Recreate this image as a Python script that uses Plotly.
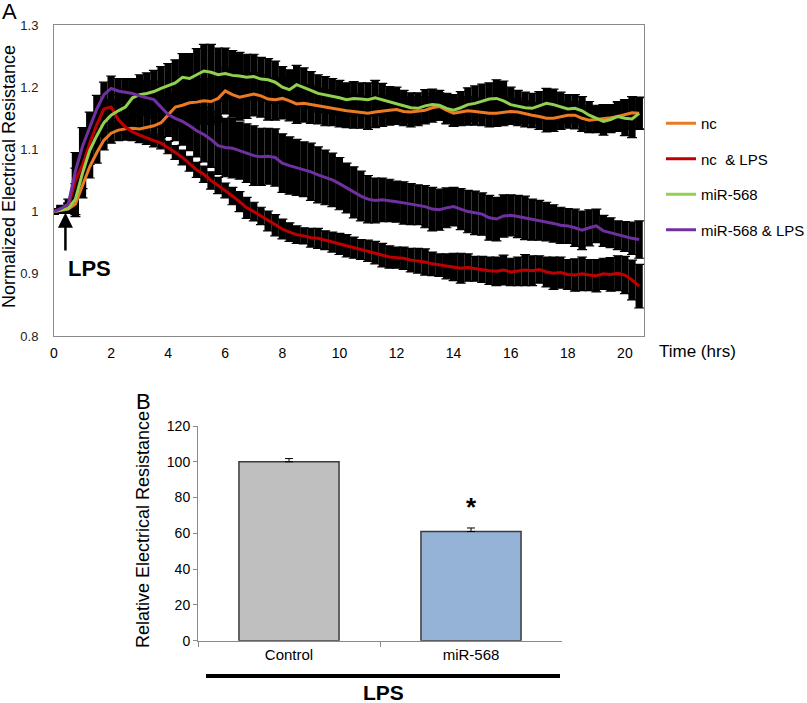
import plotly.graph_objects as go

# ---------------- Panel A data (time course) ----------------
TIME_HRS = [0.0, 0.25, 0.5, 0.75, 1.0, 1.25, 1.5, 1.75, 2.0, 2.25,
            2.5, 2.75, 3.0, 3.25, 3.5, 3.75, 4.0, 4.25, 4.5, 4.75,
            5.0, 5.25, 5.5, 5.75, 6.0, 6.25, 6.5, 6.75, 7.0, 7.25,
            7.5, 7.75, 8.0, 8.25, 8.5, 8.75, 9.0, 9.25, 9.5, 9.75,
            10.0, 10.25, 10.5, 10.75, 11.0, 11.25, 11.5, 11.75, 12.0, 12.25,
            12.5, 12.75, 13.0, 13.25, 13.5, 13.75, 14.0, 14.25, 14.5, 14.75,
            15.0, 15.25, 15.5, 15.75, 16.0, 16.25, 16.5, 16.75, 17.0, 17.25,
            17.5, 17.75, 18.0, 18.25, 18.5, 18.75, 19.0, 19.25, 19.5, 19.75,
            20.0, 20.25, 20.5]

NC = [1.000, 1.002, 1.004, 1.012, 1.042, 1.072, 1.095, 1.115, 1.126, 1.131,
      1.133, 1.134, 1.133, 1.135, 1.138, 1.143, 1.155, 1.168, 1.171, 1.175,
      1.176, 1.178, 1.177, 1.182, 1.194, 1.188, 1.184, 1.186, 1.189, 1.186,
      1.181, 1.180, 1.182, 1.178, 1.173, 1.174, 1.172, 1.170, 1.167, 1.166,
      1.164, 1.162, 1.161, 1.160, 1.158, 1.160, 1.162, 1.163, 1.164, 1.161,
      1.160, 1.161, 1.163, 1.167, 1.169, 1.163, 1.158, 1.160, 1.162, 1.161,
      1.159, 1.158, 1.158, 1.160, 1.161, 1.160, 1.157, 1.155, 1.153, 1.150,
      1.150, 1.152, 1.155, 1.155, 1.150, 1.147, 1.148, 1.150, 1.151, 1.153,
      1.156, 1.159, 1.158]
NC_ERR = [0.004, 0.005, 0.007,
          0.020, 0.020, 0.018, 0.017, 0.016, 0.016,
          0.017, 0.018, 0.020, 0.022, 0.024, 0.026, 0.028, 0.030, 0.032, 0.033, 0.034, 0.035,
          0.036, 0.037, 0.038, 0.037, 0.036, 0.037, 0.036, 0.035, 0.034, 0.034, 0.033, 0.033,
          0.032, 0.031, 0.030, 0.030, 0.029, 0.029, 0.028, 0.028, 0.027, 0.027, 0.026, 0.026,
          0.025, 0.025, 0.024, 0.024,
          0.023, 0.024, 0.023, 0.022, 0.023, 0.022, 0.022, 0.021, 0.022, 0.023, 0.022, 0.021,
          0.022, 0.021, 0.022, 0.021,
          0.022, 0.021, 0.020, 0.021, 0.022, 0.021, 0.020, 0.021, 0.022, 0.021, 0.020, 0.021,
          0.022, 0.021, 0.022, 0.024, 0.026, 0.025]

NC_LPS = [1.000, 1.003, 1.008, 1.050, 1.075, 1.110, 1.140, 1.165, 1.168, 1.148,
          1.136, 1.128, 1.123, 1.118, 1.114, 1.110, 1.103, 1.095, 1.087, 1.077,
          1.067, 1.060, 1.050, 1.042, 1.034, 1.025, 1.016, 1.006, 1.000, 0.993,
          0.985, 0.978, 0.972, 0.967, 0.963, 0.961, 0.958, 0.957, 0.954, 0.951,
          0.948, 0.945, 0.942, 0.939, 0.937, 0.934, 0.930, 0.927, 0.926, 0.925,
          0.922, 0.921, 0.919, 0.916, 0.914, 0.912, 0.911, 0.909, 0.910, 0.908,
          0.907, 0.905, 0.904, 0.906, 0.903, 0.904, 0.906, 0.905, 0.907, 0.903,
          0.901, 0.902, 0.899, 0.898, 0.900, 0.898, 0.897, 0.900, 0.899, 0.901,
          0.898, 0.890, 0.880]
NC_LPS_ERR = [0.004, 0.004, 0.006,
              0.020, 0.020, 0.020, 0.018, 0.015, 0.012,
              0.010, 0.010, 0.009, 0.009, 0.010, 0.010, 0.009, 0.010, 0.011, 0.012, 0.012, 0.012,
              0.013, 0.014, 0.013, 0.012, 0.014, 0.016, 0.017, 0.015, 0.014, 0.016, 0.017, 0.016,
              0.015, 0.014, 0.013, 0.015, 0.016, 0.015, 0.016, 0.017, 0.018, 0.017, 0.016, 0.017,
              0.018, 0.019, 0.018, 0.017,
              0.018, 0.019, 0.020, 0.021, 0.019, 0.018, 0.020, 0.022, 0.024, 0.022, 0.020, 0.021,
              0.022, 0.023, 0.024, 0.022,
              0.023, 0.025, 0.024, 0.022, 0.024, 0.026, 0.025, 0.024, 0.026, 0.027, 0.025, 0.026,
              0.025, 0.027, 0.028, 0.030, 0.032, 0.035]

MIR = [1.000, 1.003, 1.005, 1.020, 1.062, 1.098, 1.122, 1.143, 1.155, 1.162,
       1.168, 1.183, 1.188, 1.190, 1.193, 1.198, 1.202, 1.207, 1.216, 1.214,
       1.220, 1.226, 1.224, 1.220, 1.222, 1.219, 1.218, 1.216, 1.217, 1.213,
       1.212, 1.208, 1.200, 1.196, 1.204, 1.200, 1.195, 1.190, 1.188, 1.186,
       1.183, 1.180, 1.182, 1.181, 1.180, 1.183, 1.180, 1.176, 1.174, 1.170,
       1.167, 1.166, 1.170, 1.172, 1.171, 1.166, 1.163, 1.167, 1.172, 1.174,
       1.178, 1.181, 1.182, 1.178, 1.172, 1.169, 1.167, 1.166, 1.170, 1.174,
       1.172, 1.168, 1.165, 1.166, 1.162, 1.155, 1.150, 1.145, 1.148, 1.153,
       1.150, 1.149, 1.158]
MIR_ERR = [0.004, 0.005, 0.008,
           0.025, 0.025, 0.022, 0.020, 0.022, 0.025,
           0.026, 0.028, 0.030, 0.032, 0.033, 0.034, 0.035, 0.036, 0.037, 0.038, 0.040, 0.042,
           0.043, 0.045, 0.043, 0.041, 0.040, 0.038, 0.037, 0.036, 0.035, 0.034, 0.034, 0.033,
           0.032, 0.031, 0.031, 0.030, 0.030, 0.029, 0.028, 0.028, 0.027, 0.027, 0.026, 0.027,
           0.028, 0.026, 0.025, 0.026,
           0.025, 0.024, 0.025, 0.026, 0.025, 0.024, 0.024, 0.025, 0.026, 0.027, 0.028, 0.027,
           0.026, 0.030, 0.032, 0.028,
           0.026, 0.025, 0.024, 0.023, 0.024, 0.025, 0.024, 0.023, 0.022, 0.023, 0.022, 0.021,
           0.022, 0.021, 0.024, 0.028, 0.030, 0.026]

MIR_LPS = [1.000, 1.005, 1.012, 1.065, 1.105, 1.135, 1.165, 1.188, 1.198, 1.194,
           1.192, 1.190, 1.186, 1.183, 1.180, 1.168, 1.156, 1.150, 1.145, 1.138,
           1.130, 1.124, 1.116, 1.106, 1.103, 1.102, 1.098, 1.094, 1.090, 1.088,
           1.089, 1.087, 1.078, 1.074, 1.071, 1.068, 1.064, 1.059, 1.055, 1.051,
           1.045, 1.038, 1.031, 1.025, 1.020, 1.018, 1.019, 1.018, 1.016, 1.014,
           1.012, 1.011, 1.008, 1.004, 1.003, 1.006, 1.008, 1.004, 1.000, 0.998,
           0.996, 0.990, 0.988, 0.993, 0.994, 0.992, 0.990, 0.987, 0.986, 0.984,
           0.981, 0.978, 0.977, 0.974, 0.970, 0.974, 0.977, 0.969, 0.966, 0.962,
           0.960, 0.957, 0.955]
MIR_LPS_ERR = [0.004, 0.005, 0.008,
               0.030, 0.030, 0.025, 0.022, 0.020, 0.020,
               0.020, 0.022, 0.024, 0.025, 0.027, 0.030, 0.032, 0.035, 0.036, 0.038, 0.040, 0.042,
               0.044, 0.045, 0.046, 0.047, 0.048, 0.046, 0.047, 0.048, 0.046, 0.045, 0.046, 0.047,
               0.046, 0.045, 0.044, 0.046, 0.045, 0.044, 0.043, 0.042, 0.040, 0.041, 0.040, 0.038,
               0.036, 0.035, 0.034, 0.033,
               0.034, 0.033, 0.032, 0.034, 0.035, 0.033, 0.032, 0.031, 0.033, 0.034, 0.035, 0.034,
               0.036, 0.035, 0.034, 0.033,
               0.034, 0.035, 0.033, 0.032, 0.031, 0.030, 0.029, 0.028, 0.030, 0.031, 0.029, 0.027,
               0.025, 0.024, 0.023, 0.024, 0.026, 0.030]

SERIES_NAMES = ["nc", "nc  & LPS", "miR-568", "miR-568 & LPS"]
SERIES_COLORS = ["#EC7A22", "#C00000", "#92D050", "#7030A0"]
A_XTICKS = [0, 2, 4, 6, 8, 10, 12, 14, 16, 18, 20]
A_YTICKS = [0.8, 0.9, 1.0, 1.1, 1.2, 1.3]
A_YTICKTEXT = ["0.8", "0.9", "1", "1.1", "1.2", "1.3"]

# ---------------- Panel B data (bars) ----------------
B_CATEGORIES = ["Control", "miR-568"]
B_VALUES = [100, 61]
B_ERRORS = [1.8, 2.0]
B_COLORS = ["#BFBFBF", "#95B3D7"]

W, H = 807, 703
FONT = "Liberation Sans, Arial, sans-serif"


def px(x):
    return x / W


def py(y):
    return 1 - y / H


fig = go.Figure()

series_vals = [NC, NC_LPS, MIR, MIR_LPS]
series_errs = [NC_ERR, NC_LPS_ERR, MIR_ERR, MIR_LPS_ERR]

# error bars first (black): a solid body plus thin capped bars for the ragged edge
for vals, errs in zip(series_vals, series_errs):
    fig.add_trace(go.Scatter(
        x=TIME_HRS, y=vals, mode="markers",
        marker=dict(size=1, color="rgba(0,0,0,0)"),
        error_y=dict(type="data", array=errs, visible=True, color="black",
                     thickness=7.2, width=0),
        showlegend=False, hoverinfo="skip", xaxis="x", yaxis="y"))
    fig.add_trace(go.Scatter(
        x=TIME_HRS, y=vals, mode="markers",
        marker=dict(size=1, color="rgba(0,0,0,0)"),
        error_y=dict(type="data", array=errs, visible=True, color="black",
                     thickness=1.2, width=5),
        showlegend=False, hoverinfo="skip", xaxis="x", yaxis="y"))

for i, (vals, name, col) in enumerate(zip(series_vals, SERIES_NAMES, SERIES_COLORS)):
    fig.add_trace(go.Scatter(
        x=TIME_HRS, y=vals, mode="lines", name=name,
        line=dict(color=col, width=3), legendgroup=f"g{i}",
        xaxis="x", yaxis="y"))

fig.add_trace(go.Bar(
    x=B_CATEGORIES, y=B_VALUES, width=0.55,
    marker=dict(color=B_COLORS, line=dict(color="#3A3A3A", width=1.5)),
    error_y=dict(type="data", array=B_ERRORS, arrayminus=[0, 0], symmetric=False,
                 color="black", thickness=1, width=4),
    showlegend=False, xaxis="x2", yaxis="y2"))

axis_gray = "#8A8A8A"
fig.update_layout(
    width=W, height=H,
    margin=dict(l=0, r=0, t=0, b=0, autoexpand=False),
    paper_bgcolor="white", plot_bgcolor="white",
    font=dict(family=FONT, color="black"),
    xaxis=dict(domain=[px(54), px(644)], range=[0, 20.67], tickvals=A_XTICKS,
               showline=True, mirror=True, linecolor=axis_gray, linewidth=1,
               showgrid=False, zeroline=False, ticks="", automargin=False,
               tickfont=dict(size=14, family=FONT, color="black"),
               ticklabelstandoff=4, anchor="y"),
    yaxis=dict(domain=[py(336), py(25)], range=[0.8, 1.3], tickvals=A_YTICKS,
               ticktext=A_YTICKTEXT, showline=True, mirror=True, linecolor=axis_gray,
               linewidth=1, showgrid=False, zeroline=False, ticks="", automargin=False,
               tickfont=dict(size=13, family=FONT, color="#222222"),
               ticklabelstandoff=12, anchor="x"),
    xaxis2=dict(domain=[px(198), px(562)], type="category", showline=True,
                linecolor=axis_gray, linewidth=1, ticks="outside", tickson="boundaries",
                ticklen=5, tickcolor=axis_gray, showgrid=False, zeroline=False,
                automargin=False,
                tickfont=dict(size=15, family=FONT, color="black"), anchor="y2"),
    yaxis2=dict(domain=[py(640.7), py(426)], range=[0, 120], dtick=20, showline=True,
                linecolor=axis_gray, linewidth=1, ticks="outside", ticklen=4,
                tickcolor=axis_gray, showgrid=False, zeroline=False, automargin=False,
                tickfont=dict(size=14, family=FONT, color="black"), anchor="x2"),
    legend=dict(x=px(661), y=py(107), xanchor="left", yanchor="top",
                traceorder="grouped", tracegroupgap=13,
                font=dict(size=15, family=FONT, color="black"),
                bgcolor="rgba(0,0,0,0)"),
    showlegend=True,
)

ann = [
    dict(text="A", x=px(9), y=py(12), font=dict(size=22)),
    dict(text="B", x=px(143), y=py(401), font=dict(size=22)),
    dict(text="Normalized Electrical Resistance", x=px(9), y=py(177), textangle=-90,
         font=dict(size=18)),
    dict(text="Relative Electrical Resistance", x=px(143), y=py(530), textangle=-90,
         font=dict(size=18)),
    dict(text="Time (hrs)", x=px(697), y=py(351), font=dict(size=17)),
    dict(text="<b>LPS</b>", x=px(89), y=py(268), font=dict(size=22)),
    dict(text="<b>LPS</b>", x=px(383), y=py(692), font=dict(size=21)),
]
annotations = []
for a in ann:
    a.update(xref="paper", yref="paper", showarrow=False, xanchor="center", yanchor="middle")
    a["font"]["family"] = FONT
    a["font"]["color"] = "black"
    annotations.append(a)

# LPS arrow in panel A
annotations.append(dict(x=0.4, y=0.998, xref="x", yref="y", ax=0.4, ay=0.935,
                        axref="x", ayref="y", text="", showarrow=True, arrowhead=2,
                        arrowsize=1.2, arrowwidth=2.5, arrowcolor="black"))
# significance star in panel B
annotations.append(dict(x="miR-568", y=B_VALUES[1] + B_ERRORS[1], xref="x2", yref="y2",
                        text="<b>*</b>", showarrow=False, yanchor="bottom", yshift=4,
                        font=dict(size=26, family=FONT, color="black")))
fig.update_layout(annotations=annotations)

fig.add_shape(type="line", xref="paper", yref="paper", x0=px(206), x1=px(560),
              y0=py(676), y1=py(676), line=dict(color="black", width=4))

fig.write_html("out.html", config={"displayModeBar": False},
               post_script="document.body.style.margin='0px';document.body.style.overflow='hidden';")
